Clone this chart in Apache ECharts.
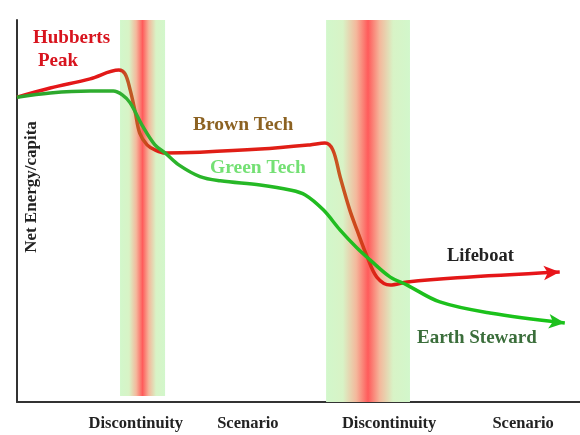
<!DOCTYPE html>
<html>
<head>
<meta charset="utf-8">
<script src="https://cdn.jsdelivr.net/npm/echarts@6/dist/echarts.min.js"></script>
<style>
html, body { margin: 0; padding: 0; background: #fff; }
#chart { width: 580px; height: 435px; }
</style>
</head>
<body>
<div id="chart"></div>
<script>
// time runs 0..100 left to right, net energy 0..100 bottom to top
var redPath = [
    [0, 79.8], [5.9, 82.2], [13, 84.6], [18.1, 86.9], [19.2, 85.9], [20.1, 81.7],
    [21, 75.9], [21.8, 70.4], [23.1, 67.3], [24.5, 66], [26.3, 65.2], [32.5, 65.4],
    [43.2, 66.2], [52, 67.3], [54.7, 67.8], [56.1, 66], [57.4, 58.9], [59.1, 50.3],
    [60.4, 45], [62.2, 38], [63.9, 32.7], [66.3, 30.6], [69.3, 31.4], [78.2, 32.5],
    [96.4, 34]
];
var greenPath = [
    [0, 79.8], [5.9, 80.9], [13, 81.4], [17.1, 81.4], [18.7, 80.4], [20.1, 78.3],
    [22.4, 72], [24.5, 67.3], [26.3, 65.2], [28.8, 62], [32.5, 59], [36.1, 57.9],
    [43.2, 56.8], [48.5, 55.5], [51.2, 54.2], [54.4, 50.3], [57.4, 45], [60.4, 40.3],
    [62.7, 37.2], [66.3, 32.7], [69.3, 30.6], [75.1, 26.2], [84, 23.3], [97.3, 20.7]
];
var bands = [[18.3, 26.3], [54.9, 69.8]];
var tickValues = [21.1, 41, 66.1, 89.9];
var tickLabels = ['Discontinuity', 'Scenario', 'Discontinuity', 'Scenario'];

var myChart = echarts.init(document.getElementById('chart'));

function withArrow(path, rot) {
    var d = path.map(function (p) { return p.slice(); });
    var last = d.pop();
    d.push({ value: last, symbol: 'arrow', symbolSize: [11, 16], symbolRotate: rot });
    return d;
}

var bandColor = new echarts.graphic.LinearGradient(0, 0, 1, 0, [
    { offset: 0, color: '#d2f7cb' },
    { offset: 0.2, color: '#d8f3c6' },
    { offset: 0.36, color: '#f4b89c' },
    { offset: 0.5, color: '#ff5b5b' },
    { offset: 0.64, color: '#f4b89c' },
    { offset: 0.8, color: '#d8f3c6' },
    { offset: 1, color: '#d2f7cb' }
]);

var serif = '"Liberation Serif", "DejaVu Serif", serif';

option = {
    animation: false,
    grid: { left: 17, right: 0, top: 20, bottom: 33 },
    xAxis: {
        type: 'value',
        min: 0,
        max: 100,
        splitLine: { show: false },
        axisTick: { show: false },
        axisLine: { show: true, lineStyle: { color: '#333', width: 2 } },
        axisLabel: {
            customValues: tickValues,
            formatter: function (v) {
                var i = tickValues.indexOf(v);
                return i >= 0 ? tickLabels[i] : '';
            },
            margin: 13,
            color: '#222',
            fontFamily: serif,
            fontWeight: 'bold',
            fontSize: 16.5
        }
    },
    yAxis: {
        type: 'value',
        min: 0,
        max: 100,
        splitLine: { show: false },
        axisTick: { show: false },
        axisLabel: { show: false },
        axisLine: { show: true, onZero: false, lineStyle: { color: '#333', width: 2 } }
    },
    graphic: [
        { type: 'text', x: 32, y: 187, rotation: Math.PI / 2,
          style: { text: 'Net Energy/capita', fill: '#222', font: 'bold 17px ' + serif,
                   textAlign: 'center', textVerticalAlign: 'middle' } },
        { type: 'text', x: 33, y: 38,
          style: { text: 'Hubberts', fill: '#d8141e', font: 'bold 19px ' + serif, textVerticalAlign: 'middle' } },
        { type: 'text', x: 38, y: 61,
          style: { text: 'Peak', fill: '#d8141e', font: 'bold 19px ' + serif, textVerticalAlign: 'middle' } },
        { type: 'text', x: 193, y: 125,
          style: { text: 'Brown Tech', fill: '#8c6222', font: 'bold 19.5px ' + serif, textVerticalAlign: 'middle' } },
        { type: 'text', x: 210, y: 168,
          style: { text: 'Green Tech', fill: '#74e074', font: 'bold 19.5px ' + serif, textVerticalAlign: 'middle' } },
        { type: 'text', x: 447, y: 256,
          style: { text: 'Lifeboat', fill: '#222', font: 'bold 18.5px ' + serif, textVerticalAlign: 'middle' } },
        { type: 'text', x: 417, y: 338,
          style: { text: 'Earth Steward', fill: '#3b6e3b', font: 'bold 19px ' + serif, textVerticalAlign: 'middle' } }
    ],
    series: [
        {
            name: 'bands',
            type: 'line',
            data: [],
            markArea: {
                silent: true,
                itemStyle: { color: bandColor },
                data: [
                    [{ xAxis: bands[0][0], yAxis: 1.6 }, { xAxis: bands[0][1], yAxis: 100 }],
                    [{ xAxis: bands[1][0], yAxis: 0 }, { xAxis: bands[1][1], yAxis: 100 }]
                ]
            }
        },
        {
            name: 'Brown Tech',
            type: 'line',
            smooth: 0.35,
            symbol: 'none',
            showSymbol: true,
            data: withArrow(redPath, -87),
            itemStyle: { color: '#e8141a' },
            lineStyle: {
                width: 3.5,
                color: new echarts.graphic.LinearGradient(0, 0, 1, 0, [
                    { offset: 0, color: '#e8141a' },
                    { offset: 0.19, color: '#e01a18' },
                    { offset: 0.205, color: '#bf5a26' },
                    { offset: 0.235, color: '#c4521e' },
                    { offset: 0.26, color: '#e01e16' },
                    { offset: 0.57, color: '#e01e16' },
                    { offset: 0.59, color: '#c65a22' },
                    { offset: 0.63, color: '#d0421a' },
                    { offset: 0.67, color: '#e01a16' },
                    { offset: 1, color: '#e8141a' }
                ])
            },
            z: 3
        },
        {
            name: 'Green Tech',
            type: 'line',
            smooth: 0.35,
            symbol: 'none',
            showSymbol: true,
            data: withArrow(greenPath, -96),
            itemStyle: { color: '#1ec01e' },
            lineStyle: {
                width: 3.5,
                color: new echarts.graphic.LinearGradient(0, 0, 1, 0, [
                    { offset: 0, color: '#2aa32a' },
                    { offset: 0.2, color: '#30b030' },
                    { offset: 0.5, color: '#22bb22' },
                    { offset: 1, color: '#18c418' }
                ])
            },
            z: 4
        }
    ]
};
myChart.setOption(option);
</script>
</body>
</html>
